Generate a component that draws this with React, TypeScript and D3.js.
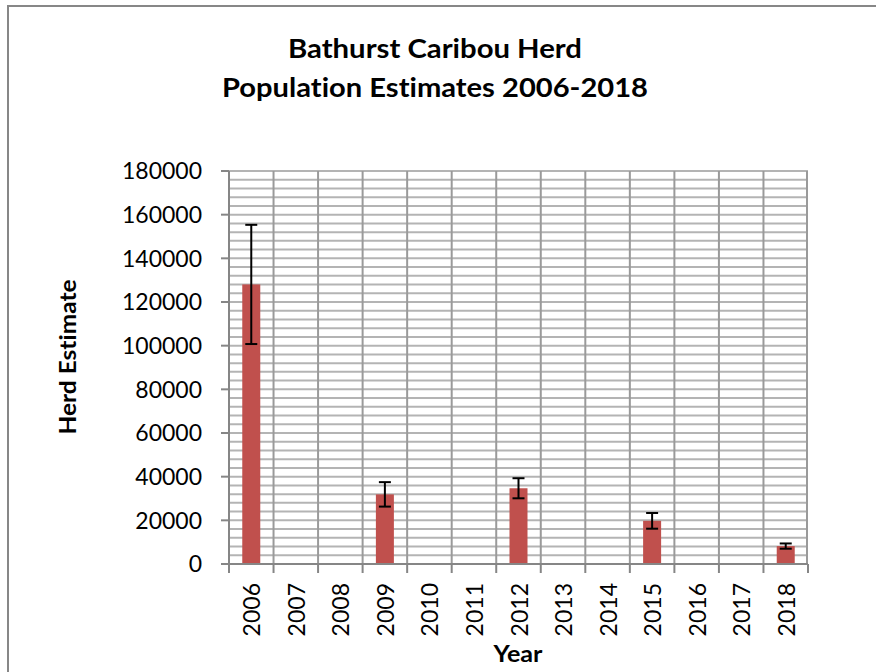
import React from 'react';
import * as d3 from 'd3';

const years = ['2006', '2007', '2008', '2009', '2010', '2011', '2012', '2013', '2014', '2015', '2016', '2017', '2018'];
const estimates: (number | null)[] = [128047, null, null, 31891, null, null, 34690, null, null, 19769, null, null, 8207];
const errors: (number | null)[] = [27300, null, null, 5600, null, null, 4600, null, null, 3600, null, null, 1200];
const yMajorTicks = [0, 20000, 40000, 60000, 80000, 100000, 120000, 140000, 160000, 180000];
const yMinorStep = 4000;
const titleLines = ['Bathurst Caribou Herd', 'Population Estimates 2006-2018'];
const titleWidths = [294, 426];
const yTitle = 'Herd Estimate';
const xTitle = 'Year';

const W = 876;
const H = 672;
const plot = { left: 229, right: 808, top: 171, bottom: 564 };
const font = 'Lato, "Open Sans", "Liberation Sans", sans-serif';
const noLig = { fontVariantLigatures: 'none' as const, fontFeatureSettings: '"liga" 0, "clig" 0' };

export default function App() {
  const x = d3.scaleBand<string>().domain(years).range([plot.left, plot.right]).padding(0);
  const y = d3.scaleLinear().domain([0, 180000]).range([plot.bottom, plot.top]);
  const minor = d3.range(0, 180000 + 1, yMinorStep);
  const barW = 18;
  const capW = 12;

  return (
    <svg width={W} height={H} style={{ position: 'absolute', left: 0, top: 0, background: '#fff' }}>
      <rect x={0} y={0} width={W} height={H} fill="#fff" />
      <rect x={8} y={6} width={W + 20} height={H + 20} fill="none" stroke="#878787" strokeWidth={2} />
      {titleLines.map((t, i) => (
        <text key={t} x={435} y={58 + i * 39} textAnchor="middle" fontFamily={font} fontWeight="bold" fontSize={27}
          textLength={titleWidths[i]} lengthAdjust="spacingAndGlyphs" fill="#000" style={noLig}>
          {t}
        </text>
      ))}
      {/* horizontal gridlines */}
      {minor.map((v) => (
        <line key={'h' + v} x1={plot.left} x2={plot.right} y1={y(v)} y2={y(v)} stroke="#b4b4b4" strokeWidth={2} />
      ))}
      {/* vertical gridlines */}
      {years.map((yr) => (
        <line key={'v' + yr} x1={x(yr)!} x2={x(yr)!} y1={plot.top} y2={plot.bottom} stroke="#9a9a9a" strokeWidth={2} />
      ))}
      <line x1={plot.right - 1} x2={plot.right - 1} y1={plot.top} y2={plot.bottom} stroke="#9a9a9a" strokeWidth={2} />
      {/* bars */}
      {years.map((yr, i) => {
        const v = estimates[i];
        if (v == null) return null;
        const cx = x(yr)! + x.bandwidth() / 2;
        return (
          <rect key={'b' + yr} x={cx - barW / 2} y={y(v)} width={barW} height={y(0) - y(v)} fill="#c0504d" />
        );
      })}
      {/* error bars */}
      {years.map((yr, i) => {
        const v = estimates[i];
        const e = errors[i];
        if (v == null || e == null) return null;
        const cx = x(yr)! + x.bandwidth() / 2;
        return (
          <g key={'e' + yr} stroke="#000" strokeWidth={2}>
            <line x1={cx} x2={cx} y1={y(v + e)} y2={y(v - e)} />
            <line x1={cx - capW / 2} x2={cx + capW / 2} y1={y(v + e)} y2={y(v + e)} />
            <line x1={cx - capW / 2} x2={cx + capW / 2} y1={y(v - e)} y2={y(v - e)} />
          </g>
        );
      })}
      {/* axes */}
      <line x1={plot.left} x2={plot.left} y1={plot.top} y2={plot.bottom} stroke="#868686" strokeWidth={2} />
      <line x1={plot.left - 8} x2={plot.right} y1={plot.bottom} y2={plot.bottom} stroke="#868686" strokeWidth={2} />
      {yMajorTicks.map((v) => (
        <g key={'yt' + v}>
          <line x1={plot.left - 8} x2={plot.left} y1={y(v)} y2={y(v)} stroke="#868686" strokeWidth={2} />
          <text x={202} y={y(v)} dy="0.36em" textAnchor="end" fontFamily={font} fontSize={23} fill="#000">
            {v}
          </text>
        </g>
      ))}
      {years.concat(['end']).map((yr, i) => {
        const xx = i < years.length ? x(yr)! : plot.right;
        return <line key={'xt' + yr} x1={xx} x2={xx} y1={plot.bottom} y2={plot.bottom + 9} stroke="#868686" strokeWidth={2} />;
      })}
      {years.map((yr) => {
        const cx = x(yr)! + x.bandwidth() / 2;
        return (
          <text key={'xl' + yr} transform={`translate(${cx + 9},${583}) rotate(-90)`} textAnchor="end" fontFamily={font} fontSize={23} fill="#000">
            {yr}
          </text>
        );
      })}
      <text transform={`translate(76,357) rotate(-90)`} textAnchor="middle" fontFamily={font} fontWeight="bold" fontSize={22}
        textLength={155} lengthAdjust="spacingAndGlyphs" fill="#000" style={noLig}>
        {yTitle}
      </text>
      <text x={518} y={662} textAnchor="middle" fontFamily={font} fontWeight="bold" fontSize={22}
        textLength={49} lengthAdjust="spacingAndGlyphs" fill="#000">
        {xTitle}
      </text>
    </svg>
  );
}
